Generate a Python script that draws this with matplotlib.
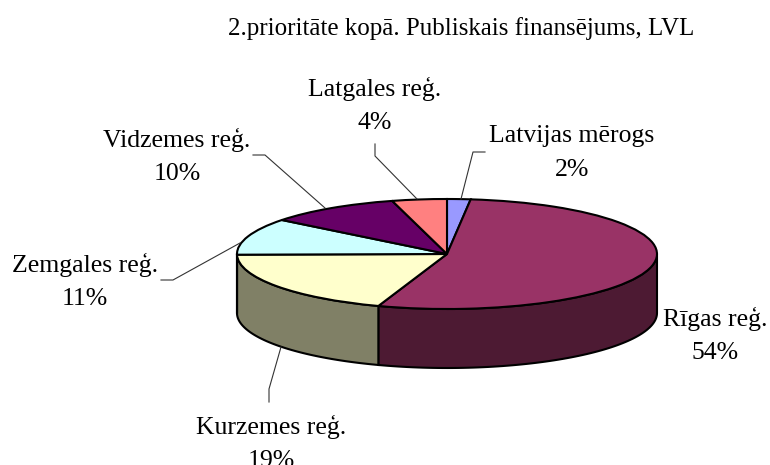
import numpy as np
import matplotlib
matplotlib.use("Agg")
import matplotlib.pyplot as plt
from matplotlib.lines import Line2D

plt.rcParams['font.family'] = ['Liberation Serif', 'DejaVu Serif']

title = "2.prioritāte kopā. Publiskais finansējums, LVL"
regions = ["Latvijas mērogs", "Rīgas reģ.", "Kurzemes reģ.", "Zemgales reģ.", "Vidzemes reģ.", "Latgales reģ."]
shares = [1.8, 53.5, 19.5, 10.8, 10.2, 4.2]
pct_labels = ["2%", "54%", "19%", "11%", "10%", "4%"]
top_colors = ["#9999FF", "#993366", "#FFFFCC", "#CCFFFF", "#660066", "#FF8080"]
wall_colors = ["#4D4D80", "#4D1A33", "#808066", "#668080", "#330033", "#804040"]

W, H = 770, 465
cx, cy = 447, 254      # pie centre, pixels
rx, ry = 210, 55       # ellipse radii, pixels
depth = 59 / ry

# label centres and leader lines in pixels
label_pos = [(572, 153), (715, 335), (271, 443), (85, 281), (177, 156), (375, 105)]
leaders = [
    [(485, 152), (473, 152), (461, 199)],
    None,
    [(269, 402), (269, 389), (281, 347)],
    [(161, 280), (173, 280), (240, 243)],
    [(253, 155), (265, 155), (325, 208)],
    [(375, 144), (375, 156), (417, 199)],
]

fig = plt.figure(figsize=(W / 100, H / 100), dpi=100)
ax = fig.add_axes([0, 0, 1, 1])

# side walls, front half of the pie only
ends = 90 - np.cumsum(shares) * 3.6
starts = ends + np.array(shares) * 3.6
for a0, a1, c in zip(starts, ends, wall_colors):
    lo, hi = max(a1, -180), min(a0, 0)
    if lo >= hi:
        continue
    t = np.radians(np.linspace(lo, hi, 80))
    x = np.cos(t)
    y = np.sin(t)
    ax.fill(np.r_[x, x[::-1]], np.r_[y, y[::-1] - depth], facecolor=c, edgecolor="black", lw=1.5, zorder=1)

wedges, _ = ax.pie(shares, colors=top_colors, startangle=90, counterclock=False, radius=1,
                   wedgeprops=dict(edgecolor="black", linewidth=1.5, zorder=2))
for w in wedges:
    w.set_zorder(2)

ax.set_aspect('auto')
ax.set_xlim(-cx / rx, (W - cx) / rx)
ax.set_ylim(-(H - cy) / ry, cy / ry)
ax.axis('off')

fs = 18.5
for name, pct, (px, py), lead in zip(regions, pct_labels, label_pos, leaders):
    fig.text(px / W, 1 - py / H, name + "\n" + pct, ha='center', va='center', fontsize=fs,
             linespacing=1.65, color="black")
    if lead:
        xs = [p[0] / W for p in lead]
        ys = [1 - p[1] / H for p in lead]
        fig.add_artist(Line2D(xs, ys, color="#333333", lw=0.8))

fig.text(461 / W, 1 - 29 / H, title, ha='center', va='center', fontsize=18)

fig.savefig("out.png", dpi=100)
